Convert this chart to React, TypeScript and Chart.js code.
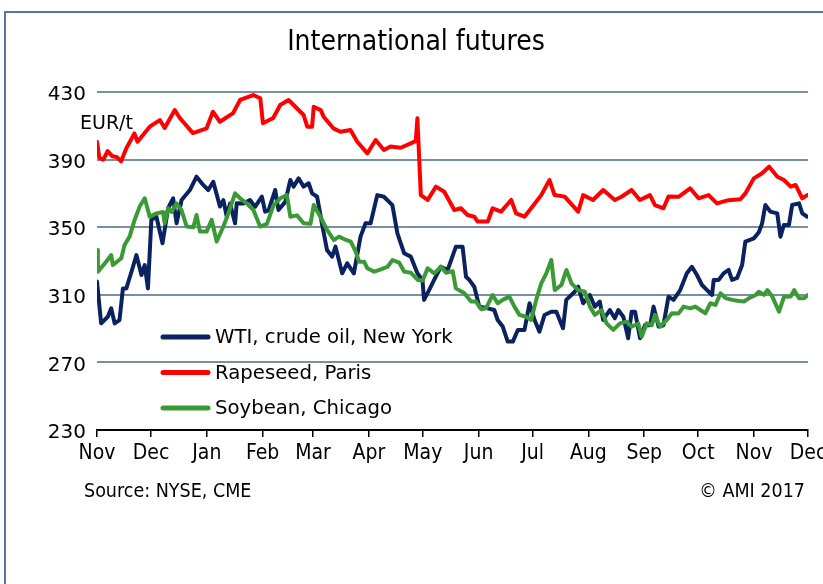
import React, { useEffect, useRef } from "react";
import { Chart, registerables } from "chart.js";

Chart.register(...registerables);

const W = 823;
const H = 584;

const titleText = "International futures";
const unitText = "EUR/t";
const sourceText = "Source: NYSE, CME";
const copyrightText = "© AMI 2017";

const monthLabels = ["Nov", "Dec", "Jan", "Feb", "Mar", "Apr", "May", "Jun", "Jul", "Aug", "Sep", "Oct", "Nov", "Dec"];
// days since 1 Nov 2016 of each month start
const monthStartDays = [0, 30, 61, 92, 120, 151, 181, 212, 242, 273, 304, 334, 365, 395];
const yTicks = [230, 270, 310, 350, 390, 430];

const seriesNames = ["WTI, crude oil, New York", "Rapeseed, Paris", "Soybean, Chicago"];
const seriesColors = ["#0a2260", "#ff0000", "#3a9b35"];

const wtiDays = [0, 2.3, 6, 7.9, 9.8, 12.5, 14.4, 16.3, 20, 21.9, 24.7, 26.5, 28.3, 30.2, 33, 36.4, 39.5, 42.3, 44.2, 47, 51.6, 55.3, 59, 61.8, 64.6, 68.3, 70.2, 72.1, 73.9, 76.7, 77.6, 81.3, 85, 87.8, 91.6, 93.4, 95.3, 99, 100.8, 104.6, 107.4, 109.2, 112, 114.8, 117.6, 119.5, 122.3, 125, 127.8, 130.6, 132.5, 136.2, 139, 142.7, 146.4, 149.2, 152, 155.7, 159.4, 164.1, 166.9, 170.6, 174.3, 178, 180.8, 181.7, 184.5, 187.3, 191, 194.8, 199.4, 203.1, 205, 206.8, 209.6, 212.4, 217.1, 220.7, 222.6, 225.4, 228.2, 231, 233.8, 237.5, 240.3, 243.1, 245.8, 248.6, 252.4, 255.2, 258.9, 260.7, 265.4, 267.3, 270.1, 273.8, 276.6, 279.3, 281.2, 284.9, 287.7, 289.6, 292.4, 295.1, 297, 298.9, 301.7, 304.5, 307.3, 309.2, 312, 314.7, 317.5, 320.3, 324, 327.7, 330.5, 333.3, 336.1, 338.9, 341.7, 342.6, 345.4, 348.1, 350.9, 352.8, 355.6, 358.4, 360.2, 364.9, 367.7, 369.5, 371.3, 374.1, 377.9, 379.7, 381.6, 384.4, 386.2, 390, 391.8, 394.6];
const wtiValues = [317.8, 293.1, 297, 302, 293.1, 295, 313.8, 313.8, 326.6, 333.5, 321.7, 327.6, 313.8, 354.3, 356.2, 340.5, 361.2, 367.1, 352.3, 366.1, 372, 379.9, 375, 372, 376.9, 362.2, 366, 356.2, 364, 352.3, 364.1, 364, 366.1, 362, 368.1, 359.2, 360, 372, 360.2, 365, 377.9, 374, 378.9, 374, 376, 370, 368, 352, 336.5, 332.6, 338.5, 322.7, 328.6, 322.7, 344.4, 352.3, 352.3, 369, 368, 363.1, 346.4, 334.6, 332.6, 322.7, 318.8, 307, 312.8, 318.8, 326.6, 324.7, 338.5, 338.5, 320.7, 318.8, 314.8, 303, 302, 301, 295.1, 291.2, 282.3, 282.3, 289.2, 289.2, 305, 295.1, 288.2, 298, 300, 300, 290.2, 307, 311.8, 314.8, 305, 309.9, 303, 306, 295.1, 301, 296.1, 301, 297, 284.3, 300, 300, 284.3, 292.1, 292, 303, 291.2, 292, 308.9, 307, 312.8, 322.7, 326.6, 321.7, 315.8, 312.8, 309.9, 318.8, 318.8, 322.7, 324.7, 318.8, 320, 327.6, 341.5, 343.4, 347, 352.3, 363.1, 359.2, 358.2, 344.4, 351.3, 351.3, 363.1, 364.1, 358.2, 356.2];

const rapeDays = [0, 1.3, 3.5, 5.9, 8.5, 11, 13.4, 16.3, 20.8, 22.5, 29.3, 34.9, 37.6, 43.2, 46, 53.3, 60.9, 64.4, 68.3, 75.6, 79.5, 86.8, 90.7, 92.2, 97.9, 101.8, 106.4, 109.2, 114.8, 116.8, 119.5, 120.4, 124.3, 125.9, 131.3, 135.3, 140.8, 144.6, 150.2, 154.8, 159.4, 163.1, 168.7, 174.3, 177.1, 178, 179.9, 183.7, 188.3, 192.9, 198.5, 202.2, 205.9, 209.6, 211.5, 217.1, 219.8, 224.5, 230.1, 232.8, 237.5, 241.2, 246.8, 251.4, 254.2, 259.8, 267.3, 270.1, 275.6, 281.2, 287.7, 291.4, 297, 301.6, 307.2, 310, 314.7, 317.5, 323.1, 329.5, 334.2, 339.8, 344.4, 350.9, 357.4, 360.2, 364.9, 369.5, 373.4, 378, 381.6, 385.4, 388.1, 391.8, 394.6];
const rapeValues = [400.6, 391, 390, 395, 392, 391.5, 389, 396.7, 405.5, 400.6, 409.5, 413.4, 408.7, 419.3, 414.6, 405.7, 408.5, 418.3, 412.4, 417.5, 425.3, 428.2, 426.3, 411.5, 414.6, 422.3, 425.3, 422.3, 416.4, 409.5, 409.5, 421.3, 419.3, 415.4, 408.5, 406.5, 407.5, 400.6, 393.7, 401.6, 395.7, 397.7, 397, 399.6, 401, 414.4, 369, 366.1, 374, 371, 360.2, 361.2, 357.2, 356.2, 353.3, 353.3, 361.2, 359.2, 366.1, 358.2, 356.2, 361.2, 369, 377.9, 369, 368.1, 359.2, 369, 366.1, 372, 366.1, 368, 372, 366.1, 369, 363.1, 361.2, 368.1, 368, 373, 367.1, 369, 364.1, 366, 366.5, 370, 378.9, 381.9, 385.8, 379.9, 377.9, 374, 375, 367.1, 369];

const soyDays = [0, 0.5, 5.1, 7.9, 8.8, 13.5, 15.3, 18.1, 20.9, 23.7, 26.5, 29.3, 33, 36.7, 37.6, 39.5, 41.4, 44.2, 47, 49.8, 53.5, 55.3, 57.2, 60.9, 63.7, 66.5, 70.2, 73, 76.7, 79.5, 83.2, 86.9, 90.6, 94.4, 98.1, 101.8, 105.5, 107.4, 111.1, 114.8, 118.6, 120.4, 124.1, 127.9, 131.6, 134.4, 137.2, 141, 143.7, 145.6, 148.4, 150.2, 154, 157.7, 161.4, 164.2, 167.9, 170.7, 174.4, 178.2, 180.9, 183.7, 187.4, 191.1, 193.9, 197.6, 199.4, 204.1, 207.8, 210.6, 213.4, 216.1, 219.8, 222.6, 225.4, 229.1, 231.9, 234.7, 238.4, 241.2, 244, 246.8, 249.6, 252.4, 254.3, 258, 260.8, 263.6, 267.3, 271, 273.8, 276.6, 280.3, 283.1, 286.8, 290.5, 294.2, 297, 300.7, 302.6, 305.4, 308.2, 310, 312.8, 316.5, 319.4, 323.1, 325.9, 329.6, 332.4, 335.2, 338, 340.8, 343.6, 346.4, 349.2, 352.9, 355.7, 359.4, 362.2, 365.9, 367.7, 370.5, 372.4, 375.2, 378.9, 381.7, 385.4, 387.3, 390, 392.9, 395];
const soyValues = [336.5, 323.7, 329.6, 333.5, 327.6, 331.6, 339.5, 344.4, 354.3, 362.2, 367.1, 356.2, 358.2, 359, 352.3, 361.2, 359, 364.1, 360, 350.4, 350, 357.2, 347.4, 347.4, 354.3, 341.5, 350.4, 358.2, 370, 367.1, 364.1, 360.2, 350.4, 352, 363.1, 367.1, 369, 356.2, 357, 352.3, 352, 363.1, 356.2, 348.3, 342.4, 344.4, 343, 341.5, 335.6, 329.6, 329.6, 325.7, 323.7, 325, 326.6, 330.6, 329, 323.7, 323, 318.8, 318.5, 325.7, 322.7, 326.6, 323, 324, 313.8, 310.9, 306, 306, 301.5, 302, 309.9, 305, 307, 308.9, 303, 298.1, 297, 295.1, 307, 316.8, 322.7, 330.6, 312.8, 315.8, 324.7, 316.8, 312.8, 311.8, 303, 298.1, 301, 293.1, 289.2, 293.1, 294.1, 291.2, 293, 285.2, 293.1, 292, 298.1, 291.2, 295.1, 299.1, 299, 303, 302, 303, 301, 299.1, 305, 304, 310.9, 308, 307, 306.5, 306, 308, 309.9, 311.8, 310, 312.8, 308.9, 300, 308.9, 309, 312.8, 308, 308, 309.9];

const NARROW = "'Liberation Sans Narrow', 'DejaVu Sans Condensed', 'Arial Narrow', sans-serif";
const WIDE = "'DejaVu Sans', Verdana, sans-serif";

function toPoints(days: number[], values: number[]) {
  return days.map((d, i) => ({ x: d, y: values[i] }));
}

const decorPlugin = {
  id: "decor",
  afterDraw(chart: any) {
    const { ctx, chartArea } = chart;
    const L = chartArea.left;
    const T = chartArea.top;
    const B = chartArea.bottom;
    const R = chartArea.right;
    ctx.save();
    ctx.fillStyle = "#000";
    // title
    ctx.font = `28px ${NARROW}`;
    ctx.textAlign = "center";
    ctx.textBaseline = "middle";
    ctx.fillText(titleText, (L + R) / 2 - 36.5, T - 49);
    // unit
    ctx.font = `19px ${WIDE}`;
    ctx.textAlign = "left";
    ctx.fillText(unitText, L - 17, T + 32);
    // legend
    const rows = [T + 245, T + 280.5, T + 316];
    seriesNames.forEach((name, i) => {
      const y = rows[i];
      ctx.strokeStyle = seriesColors[i];
      ctx.lineWidth = 5;
      ctx.lineCap = "round";
      ctx.beginPath();
      ctx.moveTo(L + 66, y);
      ctx.lineTo(L + 111, y);
      ctx.stroke();
      ctx.fillStyle = "#000";
      ctx.font = `19.7px ${WIDE}`;
      ctx.textAlign = "left";
      ctx.textBaseline = "middle";
      ctx.fillText(name, L + 118, y + 1);
    });
    // footer
    ctx.font = `19.5px ${NARROW}`;
    ctx.textAlign = "left";
    ctx.fillText(sourceText, L - 13, B + 62);
    ctx.textAlign = "right";
    ctx.fillText(copyrightText, R - 3, B + 62);
    ctx.restore();
  },
};

export default function App() {
  const ref = useRef<HTMLCanvasElement>(null);
  useEffect(() => {
    const canvas = ref.current;
    if (!canvas) return;
    const chart = new Chart(canvas, {
      type: "line",
      data: {
        datasets: [
          { label: seriesNames[0], data: toPoints(wtiDays, wtiValues), borderColor: seriesColors[0], order: 2 },
          { label: seriesNames[1], data: toPoints(rapeDays, rapeValues), borderColor: seriesColors[1], order: 1 },
          { label: seriesNames[2], data: toPoints(soyDays, soyValues), borderColor: seriesColors[2], order: 0 },
        ].map((d) => ({
          ...d,
          borderWidth: 4,
          pointRadius: 0,
          tension: 0,
          fill: false,
          borderJoinStyle: "round" as const,
          borderCapStyle: "round" as const,
        })),
      },
      options: {
        responsive: false,
        animation: false,
        events: [],
        layout: { padding: { left: 0, top: 92, right: 15, bottom: 0 } },
        plugins: { legend: { display: false }, title: { display: false }, tooltip: { enabled: false } },
        scales: {
          x: {
            type: "linear",
            min: monthStartDays[0],
            max: monthStartDays[monthStartDays.length - 1],
            afterBuildTicks: (scale: any) => {
              scale.ticks = monthStartDays.map((v) => ({ value: v }));
            },
            afterFit: (scale: any) => {
              scale.height = H - 430;
              scale.paddingLeft = 0;
              scale.paddingRight = 0;
            },
            ticks: {
              autoSkip: false,
              maxRotation: 0,
              minRotation: 0,
              padding: 4,
              color: "#000",
              font: { family: NARROW, size: 21 },
              callback: (_v: any, i: number) => monthLabels[i],
            },
            grid: { display: true, drawOnChartArea: false, drawTicks: true, tickLength: 7, color: "#000", lineWidth: 1.5 },
            border: { display: true, color: "#000", width: 1.5 },
          },
          y: {
            type: "linear",
            min: yTicks[0],
            max: yTicks[yTicks.length - 1],
            afterBuildTicks: (scale: any) => {
              scale.ticks = yTicks.map((v) => ({ value: v }));
            },
            afterFit: (scale: any) => {
              scale.width = 97;
            },
            ticks: {
              padding: 11,
              labelOffset: 3,
              color: "#000",
              font: { family: WIDE, size: 20 },
            },
            grid: {
              drawTicks: false,
              lineWidth: 2,
              color: (c: any) => (c.tick && c.tick.value === yTicks[0] ? "#000" : "#7b8ea5"),
            },
            border: { display: false },
          },
        },
      },
      plugins: [decorPlugin],
    });
    return () => chart.destroy();
  }, []);
  return (
    <div style={{ position: "absolute", left: 0, top: 0, width: W, height: H, background: "#fff", overflow: "hidden" }}>
      <canvas ref={ref} width={W} height={H} style={{ position: "absolute", left: 0, top: 0, width: W, height: H }} />
      <div
        style={{
          position: "absolute",
          left: 4,
          top: 11,
          right: 0,
          bottom: 0,
          borderLeft: "2px solid #5c7591",
          borderTop: "2px solid #5c7591",
          pointerEvents: "none",
        }}
      />
    </div>
  );
}
